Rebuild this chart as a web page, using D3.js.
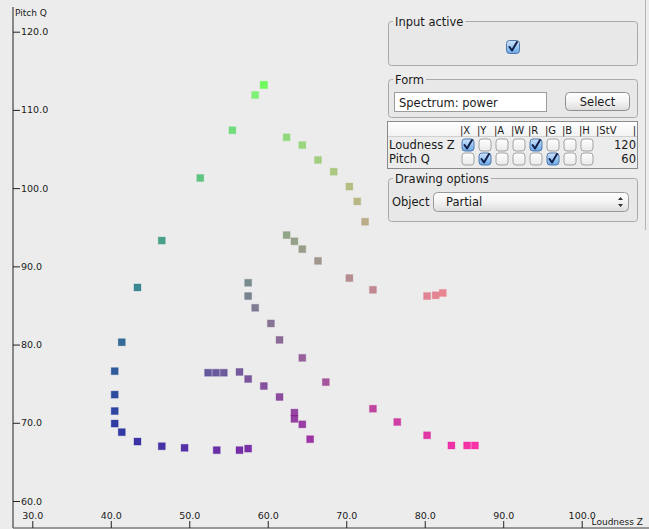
<!DOCTYPE html>
<html>
<head>
<meta charset="utf-8">
<script src="https://cdn.jsdelivr.net/npm/d3@7"></script>
<style>
  html, body { margin: 0; padding: 0; background: #ececec; }
  svg { display: block; }
  text { font-family: "DejaVu Sans", "Lucida Grande", sans-serif; fill: #1a1a1a; }
</style>
</head>
<body>
<svg id="chart" width="649" height="529"></svg>
<script>
// Partial trajectory: loudness (Z) against pitch (Q)
const loudness = [
  59.5, 59.5, 58.4, 55.5, 51.4, 46.5, 43.4, 41.4, 40.5, 40.5, 40.5, 40.5, 41.4, 43.4, 46.5, 49.4, 53.5, 56.4, 57.5,
  62.4, 64.4, 66.4, 68.4, 70.4, 71.4, 72.4,
  62.4, 63.4, 64.4, 66.4, 70.4, 73.4, 80.3, 81.4, 82.3,
  57.5, 57.5, 58.4, 60.4, 61.5, 64.4, 67.4, 73.4, 76.5, 80.3, 83.4, 85.4, 86.4,
  52.4, 53.4, 54.4, 56.4, 57.5, 59.5, 61.5, 63.4, 63.4, 64.4, 65.4
];
const pitch = [
  113.2, 113.2, 111.9, 107.4, 101.3, 93.3, 87.3, 80.3, 76.6, 73.6, 71.5, 69.9, 68.8, 67.6, 67.0, 66.8, 66.5, 66.5, 66.7,
  106.5, 105.5, 103.6, 102.1, 100.2, 98.3, 95.7,
  94.0, 93.2, 92.2, 90.7, 88.5, 87.0, 86.2, 86.3, 86.6,
  87.9, 86.2, 84.7, 82.7, 80.6, 78.3, 75.2, 71.8, 70.1, 68.4, 67.1, 67.1, 67.1,
  76.4, 76.4, 76.4, 76.5, 75.6, 74.7, 73.3, 71.3, 70.5, 69.8, 67.9
];
const xTicks = [30, 40, 50, 60, 70, 80, 90, 100];
const yTicks = [60, 70, 80, 90, 100, 110, 120];
const xTitle = "Loudness Z";
const yTitle = "Pitch Q";

// control panel contents
const tableColumns = ["X", "Y", "A", "W", "R", "G", "B", "H"];
const tableRows = ["Loudness Z", "Pitch Q"];
const tableChecks = [[1,0,0,0,1,0,0,0],[0,1,0,0,0,1,0,0]];
const tableStV = ["120", "60"];

const points = loudness.map((v, i) => ({ z: v, q: pitch[i] }));

const svg = d3.select("#chart");

const x = d3.scaleLinear().domain([30, 100]).range([32.3, 581.7]);
const y = d3.scaleLinear().domain([60, 120]).range([501, 31.7]);

// colour channels: red follows loudness, green follows pitch
const red = d3.scaleLinear().domain([40.5, 86.4]).range([0, 255]).clamp(true);
const green = d3.scaleLinear().domain([66.5, 113.2]).range([0, 250]).clamp(true);
const colour = d => {
  const g = green(d.q);
  return d3.rgb(red(d.z), g, 150 - 0.25 * g).formatHex();
};

// axes
const axisX = 13, axisY = 528;
svg.append("line").attr("x1", axisX).attr("x2", 649).attr("y1", axisY).attr("y2", axisY)
  .attr("stroke", "#444").attr("stroke-width", 1);
svg.append("line").attr("x1", axisX).attr("x2", axisX).attr("y1", 7).attr("y2", axisY)
  .attr("stroke", "#666").attr("stroke-width", 1.5);

const gx = svg.append("g").attr("transform", `translate(0,${axisY})`)
  .call(d3.axisTop(x).tickValues(xTicks).tickFormat(d3.format(".1f")).tickSize(7).tickPadding(2));
gx.select(".domain").remove();
gx.selectAll("line").attr("stroke", "#222");
gx.selectAll("text").attr("font-size", 9.5).attr("font-family", "DejaVu Sans").attr("fill", "#222");

const gy = svg.append("g").attr("transform", `translate(${axisX},0)`)
  .call(d3.axisRight(y).tickValues(yTicks).tickFormat(d3.format(".1f")).tickSize(7).tickPadding(1));
gy.select(".domain").remove();
gy.selectAll("line").attr("stroke", "#222");
gy.selectAll("text").attr("font-size", 9.5).attr("font-family", "DejaVu Sans").attr("fill", "#222");

svg.append("text").attr("x", 15).attr("y", 16).attr("font-size", 9).text(yTitle);
svg.append("text").attr("x", 643).attr("y", 525).attr("text-anchor", "end").attr("font-size", 9).text(xTitle);

// points
const size = 7;
svg.append("g").selectAll("rect").data(points).join("rect")
  .attr("x", d => x(d.z) - size / 2)
  .attr("y", d => y(d.q) - size / 2)
  .attr("width", size).attr("height", size)
  .attr("fill", colour).attr("fill-opacity", 0.8)
  .attr("stroke", colour).attr("stroke-opacity", 0.25).attr("stroke-width", 1);

// ---------- control panel ----------
const defs = svg.append("defs");
function grad(id, stops) {
  const g = defs.append("linearGradient").attr("id", id).attr("x1", 0).attr("y1", 0).attr("x2", 0).attr("y2", 1);
  stops.forEach(([o, c]) => g.append("stop").attr("offset", o).attr("stop-color", c));
}
grad("btn", [[0, "#ffffff"], [0.5, "#f3f3f3"], [1, "#dcdcdc"]]);
grad("chkOn", [[0, "#cfe3fa"], [0.5, "#9cc6f2"], [1, "#6aa6e6"]]);
grad("chkOff", [[0, "#ffffff"], [1, "#e9e9e9"]]);
grad("hdr", [[0, "#ffffff"], [1, "#f2f2f2"]]);

const panel = svg.append("g");
panel.append("line").attr("x1", 645.5).attr("x2", 645.5).attr("y1", 0).attr("y2", 230)
  .attr("stroke", "#b4b4b4");

function groupBox(top, bottom, title) {
  panel.append("rect").attr("x", 388.5).attr("y", top).attr("width", 249).attr("height", bottom - top)
    .attr("rx", 3).attr("fill", "#e8e8e8").attr("stroke", "#a9a9a9");
  const t = panel.append("text").attr("x", 395).attr("y", top + 4).attr("font-size", 11.5).text(title);
  const w = t.node().getComputedTextLength();
  panel.insert("rect", "text:last-of-type").attr("x", 393).attr("y", top - 2).attr("width", w + 4).attr("height", 4)
    .attr("fill", "#ececec");
  t.raise();
}

function checkbox(cx, cy, on, s) {
  s = s || 12;
  panel.append("rect").attr("x", cx - s / 2).attr("y", cy - s / 2).attr("width", s).attr("height", s)
    .attr("rx", 3).attr("fill", on ? "url(#chkOn)" : "url(#chkOff)")
    .attr("stroke", on ? "#4f78ad" : "#a2a2a2");
  if (on) {
    panel.append("path")
      .attr("d", `M${cx - 3.5},${cy} L${cx - 1},${cy + 3.5} L${cx + 4},${cy - 5}`)
      .attr("fill", "none").attr("stroke", "#10204a").attr("stroke-width", 2)
      .attr("stroke-linecap", "round").attr("stroke-linejoin", "round");
  }
}

// Input active
groupBox(21.5, 65.5, "Input active");
checkbox(513, 47, true, 13);

// Form
groupBox(79.5, 117.5, "Form");
panel.append("rect").attr("x", 394.5).attr("y", 92.5).attr("width", 152).attr("height", 19)
  .attr("fill", "#fff").attr("stroke", "#9c9c9c");
panel.append("text").attr("x", 399).attr("y", 106.5).attr("font-size", 11.5).text("Spectrum: power");
panel.append("rect").attr("x", 565.5).attr("y", 92.5).attr("width", 64).attr("height", 18)
  .attr("rx", 4).attr("fill", "url(#btn)").attr("stroke", "#8f8f8f");
panel.append("text").attr("x", 597.5).attr("y", 105.5).attr("text-anchor", "middle").attr("font-size", 11.5).text("Select");

// Channel table
panel.append("rect").attr("x", 387.5).attr("y", 121.5).attr("width", 250).attr("height", 47)
  .attr("fill", "#ececec").attr("stroke", "#8a8a8a");
panel.append("rect").attr("x", 388).attr("y", 122).attr("width", 249).attr("height", 14)
  .attr("fill", "url(#hdr)");
panel.append("line").attr("x1", 388).attr("x2", 637).attr("y1", 136.5).attr("y2", 136.5).attr("stroke", "#d0d0d0");
const colX0 = 460, colW = 17;
tableColumns.concat(["StV"]).forEach((c, i) => {
  panel.append("text").attr("x", colX0 + i * colW).attr("y", 134).attr("font-size", 10)
    .attr("fill", "#333").text("|" + c);
});
panel.append("text").attr("x", 636).attr("y", 134).attr("text-anchor", "end").attr("font-size", 10).attr("fill", "#333").text("|");
tableRows.forEach((r, ri) => {
  const cy = 145 + ri * 14;
  panel.append("text").attr("x", 389).attr("y", cy + 4).attr("font-size", 11.5).text(r);
  tableChecks[ri].forEach((on, ci) => checkbox(colX0 + 8 + ci * colW, cy, !!on, 12));
  panel.append("text").attr("x", 636).attr("y", cy + 4).attr("text-anchor", "end").attr("font-size", 11.5).text(tableStV[ri]);
});

// Drawing options
groupBox(178.5, 221.5, "Drawing options");
panel.append("text").attr("x", 392).attr("y", 206).attr("font-size", 11.5).text("Object");
panel.append("rect").attr("x", 433.5).attr("y", 192.5).attr("width", 195).attr("height", 19)
  .attr("rx", 4).attr("fill", "url(#btn)").attr("stroke", "#9a9a9a");
panel.append("text").attr("x", 446).attr("y", 206).attr("font-size", 11.5).text("Partial");
panel.append("path").attr("d", "M618,200 L620.5,197 L623,200 Z M618,204 L620.5,207 L623,204 Z").attr("fill", "#333");
</script>
</body>
</html>
